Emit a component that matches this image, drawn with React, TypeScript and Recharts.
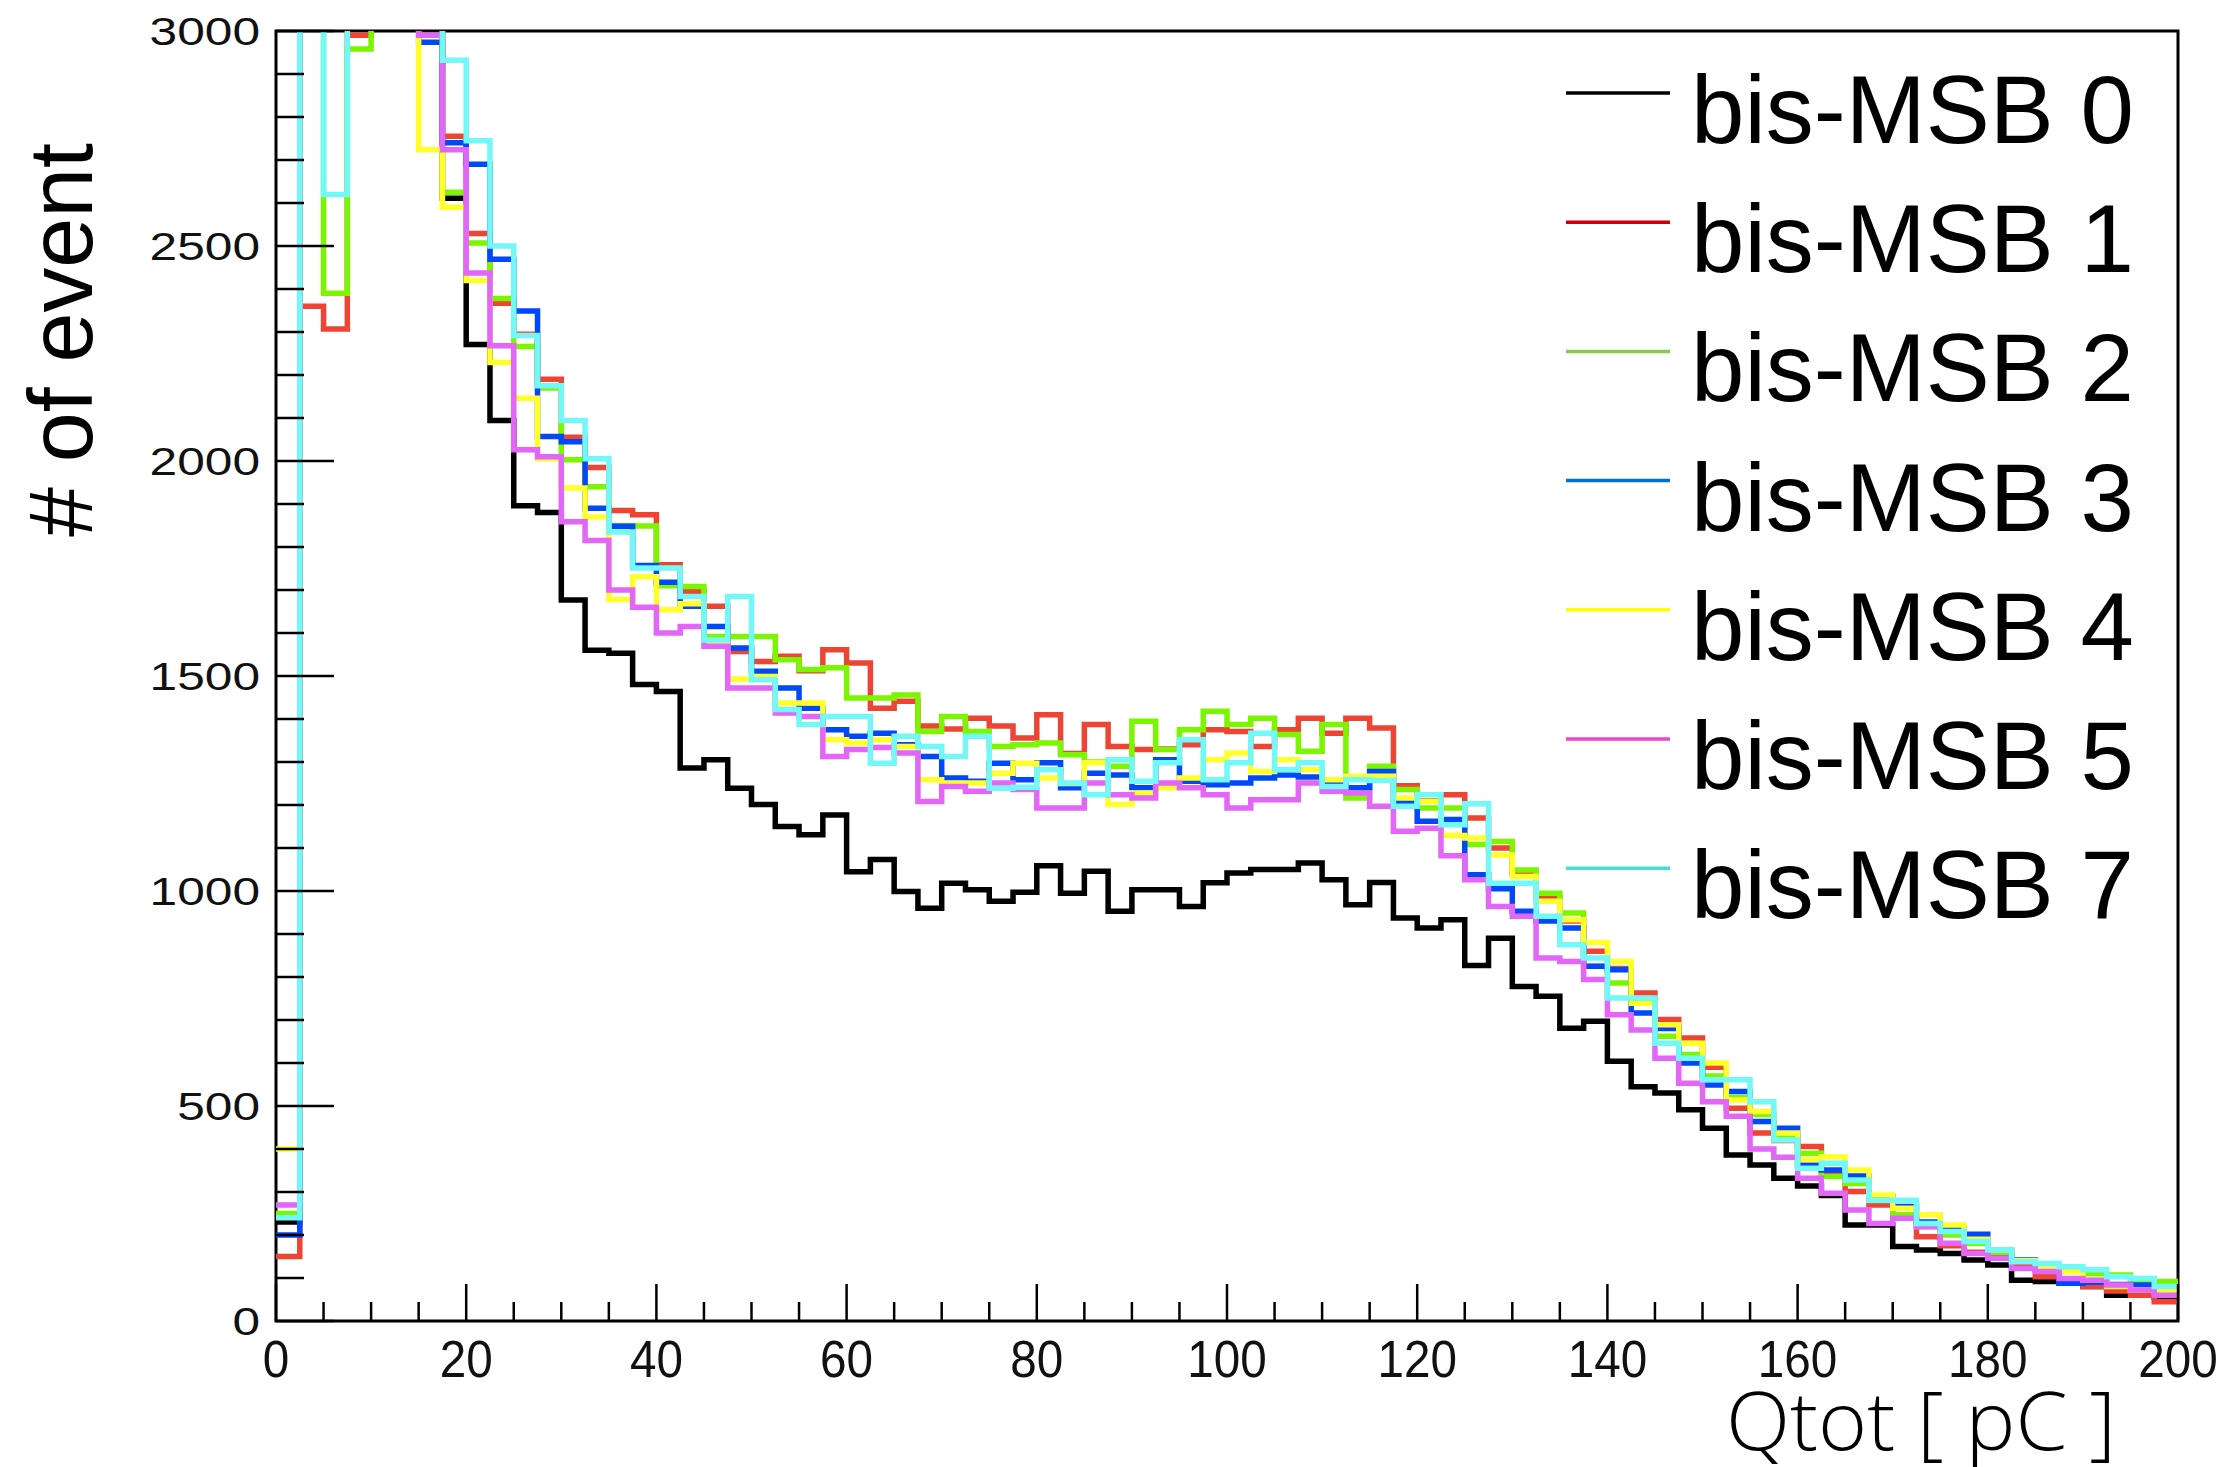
import React from 'react';
import { LineChart, Line, XAxis, YAxis, ReferenceArea, Legend } from 'recharts';

// 80 bins of 2.5 pC from 0 to 200. Bins above 3000 are clipped by the frame.
const binWidth = 2.5;
const nBins = 80;

const msb0 = [
  230, 3400, 3400, 3400, 3400, 3400, 3050, 2611, 2271, 2094,
  1896, 1880, 1677, 1560, 1553, 1480, 1464, 1286, 1305, 1239,
  1201, 1150, 1131, 1177, 1045, 1073, 999, 960, 1018, 1003,
  976, 997, 1059, 995, 1046, 953, 1003, 1003, 964, 1019,
  1042, 1050, 1050, 1065, 1026, 968, 1020, 937, 914, 933,
  827, 890, 778, 755, 681, 697, 604, 545, 530, 491,
  448, 386, 363, 332, 314, 292, 223, 223, 173, 165,
  157, 142, 130, 95, 92, 88, 80, 60, 60, 55,
];
const msb1 = [
  150, 2360, 2307, 2990, 3400, 3400, 3020, 2755, 2529, 2367,
  2295, 2190, 2055, 1985, 1885, 1875, 1759, 1697, 1662, 1557,
  1534, 1546, 1512, 1561, 1530, 1425, 1441, 1384, 1377, 1402,
  1384, 1356, 1410, 1320, 1387, 1336, 1329, 1330, 1340, 1375,
  1371, 1336, 1375, 1402, 1367, 1402, 1379, 1245, 1210, 1224,
  1170, 1100, 1040, 984, 930, 860, 820, 763, 701, 658,
  590, 495, 437, 420, 406, 340, 301, 270, 240, 196,
  175, 160, 153, 134, 103, 90, 80, 70, 60, 45,
];
const msb2 = [
  250, 3400, 2390, 2958, 3400, 3400, 3100, 2625, 2507, 2378,
  2266, 2170, 2003, 1940, 1850, 1849, 1710, 1708, 1592, 1592,
  1592, 1538, 1515, 1519, 1449, 1449, 1456, 1371, 1406, 1371,
  1336, 1340, 1344, 1317, 1300, 1290, 1395, 1329, 1375, 1418,
  1387, 1402, 1364, 1325, 1387, 1216, 1290, 1236, 1193, 1193,
  1108, 1115, 1049, 995, 949, 825, 786, 740, 662, 620,
  570, 520, 480, 430, 390, 336, 320, 280, 247, 220,
  200, 180, 160, 140, 125, 115, 110, 107, 92, 92,
];
const msb3 = [
  200, 3400, 3100, 3400, 3400, 3400, 2974, 2740, 2690, 2469,
  2349, 2057, 2045, 1890, 1848, 1757, 1718, 1662, 1615, 1565,
  1511, 1472, 1425, 1375, 1360, 1367, 1340, 1313, 1263, 1255,
  1297, 1259, 1298, 1240, 1274, 1270, 1240, 1305, 1255, 1247,
  1251, 1263, 1270, 1265, 1250, 1240, 1278, 1205, 1162, 1166,
  1038, 1005, 953, 930, 914, 825, 817, 716, 680, 600,
  549, 534, 464, 448, 363, 351, 337, 290, 266, 230,
  215, 202, 165, 142, 120, 88, 90, 85, 84, 75,
];
const msb4 = [
  400, 3400, 3400, 3400, 3400, 3400, 2724, 2590, 2420, 2229,
  2146, 2005, 1937, 1870, 1678, 1731, 1654, 1668, 1573, 1493,
  1499, 1437, 1437, 1352, 1344, 1352, 1336, 1259, 1251, 1251,
  1274, 1297, 1263, 1250, 1298, 1201, 1228, 1240, 1263, 1305,
  1321, 1278, 1305, 1282, 1259, 1267, 1267, 1216, 1209, 1129,
  1123, 1084, 1034, 976, 933, 880, 836, 739, 689, 646,
  600, 514, 487, 437, 375, 382, 351, 293, 262, 247,
  223, 190, 165, 140, 125, 115, 95, 80, 72, 70,
];
const msb5 = [
  270, 3400, 3400, 3400, 3400, 3400, 2990, 2724, 2437, 2268,
  2026, 2010, 1859, 1815, 1700, 1660, 1600, 1615, 1569, 1472,
  1472, 1414, 1406, 1313, 1329, 1334, 1321, 1208, 1243, 1232,
  1251, 1236, 1193, 1193, 1251, 1224, 1216, 1251, 1240, 1224,
  1193, 1212, 1212, 1251, 1232, 1228, 1197, 1139, 1146, 1082,
  1026, 964, 941, 844, 836, 794, 712, 677, 611, 553,
  510, 476, 400, 381, 332, 297, 258, 227, 239, 219,
  181, 157, 146, 122, 115, 99, 95, 84, 72, 60,
];
const msb7 = [
  240, 3400, 2620, 3400, 3400, 3400, 3400, 2932, 2745, 2500,
  2292, 2175, 2094, 2005, 1835, 1751, 1751, 1685, 1584, 1685,
  1491, 1422, 1387, 1406, 1406, 1297, 1360, 1336, 1313, 1360,
  1239, 1241, 1282, 1251, 1224, 1305, 1255, 1298, 1352, 1259,
  1298, 1367, 1282, 1298, 1243, 1259, 1257, 1197, 1224, 1154,
  1203, 1018, 1018, 941, 875, 844, 751, 751, 646, 611,
  561, 561, 510, 421, 355, 367, 328, 281, 281, 227,
  208, 185, 165, 138, 134, 126, 119, 103, 99, 80,
];

const seriesKeys = ['msb0', 'msb1', 'msb2', 'msb3', 'msb4', 'msb5', 'msb7'];
const seriesNames = ['bis-MSB 0', 'bis-MSB 1', 'bis-MSB 2', 'bis-MSB 3', 'bis-MSB 4', 'bis-MSB 5', 'bis-MSB 7'];
const seriesValues = [msb0, msb1, msb2, msb3, msb4, msb5, msb7];
const lineColors = ['#000000', '#ee4433', '#7cf500', '#0048f8', '#ffff2a', '#e466f8', '#72f8f8'];
const legendColors = ['#000000', '#cc0000', '#88cc44', '#0070cc', '#ffff00', '#ee44cc', '#44dede'];

const xMajorTicks = [0, 20, 40, 60, 80, 100, 120, 140, 160, 180, 200];
const yMajorTicks = [0, 500, 1000, 1500, 2000, 2500, 3000];
const xTicks: number[] = [];
for (let v = 0; v <= 200; v += 5) xTicks.push(v);
const yTicks: number[] = [];
for (let v = 0; v <= 3000; v += 100) yTicks.push(v);

// one row per bin edge, last edge repeats the last bin so the step reaches 200
const data = Array.from({ length: nBins + 1 }, (_, i) => {
  const row: Record<string, number> = { x: i * binWidth };
  seriesKeys.forEach((k, s) => {
    row[k] = seriesValues[s][Math.min(i, nBins - 1)];
  });
  return row;
});

const W = 2239;
const H = 1467;
const plot = { left: 276, right: 2178, top: 31, bottom: 1321 };
const helv = '"Liberation Sans", Arial, Helvetica, sans-serif';

const XTick = (props: any) => {
  const { x, y, payload } = props;
  const v = payload.value;
  const major = xMajorTicks.includes(v);
  const label = String(v);
  return (
    <g>
      <line x1={x} y1={y} x2={x} y2={y - (major ? 37 : 19)} stroke="#000" strokeWidth={2.5} />
      {major && (
        <text
          x={x}
          y={y + 56}
          textAnchor="middle"
          fontFamily={helv}
          fontSize={52}
          textLength={label.length * 26.5}
          lengthAdjust="spacingAndGlyphs"
          fill="#111"
        >
          {label}
        </text>
      )}
    </g>
  );
};

const YTick = (props: any) => {
  const { x, y, payload } = props;
  const v = payload.value;
  const major = yMajorTicks.includes(v);
  const label = String(v);
  return (
    <g>
      <line x1={x} y1={y} x2={x + (major ? 58 : 28)} y2={y} stroke="#000" strokeWidth={2.5} />
      {major && (
        <text
          x={x - 16}
          y={y + 14}
          textAnchor="end"
          fontFamily={helv}
          fontSize={39}
          textLength={label.length * 27.6}
          lengthAdjust="spacingAndGlyphs"
          fill="#111"
        >
          {label}
        </text>
      )}
    </g>
  );
};

const XTitle = () => (
  <text
    x={2116}
    y={1450}
    textAnchor="end"
    fontFamily='"Open Sans", "DejaVu Sans", sans-serif'
    fontWeight={300}
    fontSize={82}
    textLength={390}
    lengthAdjust="spacingAndGlyphs"
    fill="#000"
  >
    Qtot [ pC ]
  </text>
);

const YTitle = () => (
  <text
    transform="translate(92,340) rotate(-90)"
    textAnchor="middle"
    fontFamily={helv}
    fontSize={90}
    textLength={394}
    lengthAdjust="spacingAndGlyphs"
    fill="#000"
  >
    # of event
  </text>
);

const legendLeft = 1540;
const legendTop = 30;

const renderLegend = (props: any) => {
  const payload = props.payload || [];
  return (
    <svg width={690} height={940} style={{ display: 'block' }}>
      {payload.map((entry: any, i: number) => {
        const base = 113 + 129.2 * i;
        const idx = seriesNames.indexOf(entry.value);
        return (
          <g key={entry.value}>
            <line
              x1={26}
              x2={130}
              y1={base - 50}
              y2={base - 50}
              stroke={legendColors[idx >= 0 ? idx : i]}
              strokeWidth={3.5}
            />
            <text x={151} y={base} fontFamily={helv} fontSize={96} fill="#000">
              {entry.value}
            </text>
          </g>
        );
      })}
    </svg>
  );
};

export default function App() {
  const yAxisWidth = 40;
  const xAxisHeight = 40;
  return (
    <div style={{ position: 'absolute', left: 0, top: 0, width: W, height: H, background: '#fff' }}>
      <LineChart
        width={W}
        height={H}
        data={data}
        margin={{
          top: plot.top,
          right: W - plot.right,
          bottom: H - plot.bottom - xAxisHeight,
          left: plot.left - yAxisWidth,
        }}
      >
        <XAxis
          dataKey="x"
          type="number"
          domain={[0, 200]}
          ticks={xTicks}
          interval={0}
          tick={<XTick />}
          tickLine={false}
          axisLine={false}
          tickSize={0}
          tickMargin={0}
          height={xAxisHeight}
          label={<XTitle />}
        />
        <YAxis
          type="number"
          domain={[0, 3000]}
          allowDataOverflow
          ticks={yTicks}
          interval={0}
          tick={<YTick />}
          tickLine={false}
          axisLine={false}
          tickSize={0}
          tickMargin={0}
          width={yAxisWidth}
          label={<YTitle />}
        />
        {seriesKeys.map((k, s) => (
          <Line
            key={k}
            dataKey={k}
            name={seriesNames[s]}
            type="stepAfter"
            stroke={lineColors[s]}
            strokeWidth={5.5}
            strokeLinejoin="miter"
            dot={false}
            activeDot={false}
            isAnimationActive={false}
          />
        ))}
        <ReferenceArea
          x1={0}
          x2={200}
          y1={0}
          y2={3000}
          fill="none"
          fillOpacity={0}
          stroke="#000"
          strokeWidth={3}
        />
        <Legend
          layout="vertical"
          align="center"
          verticalAlign="middle"
          width={690}
          height={940}
          content={renderLegend}
          wrapperStyle={{ left: legendLeft, top: legendTop, width: 690, height: 940 }}
        />
      </LineChart>
    </div>
  );
}
